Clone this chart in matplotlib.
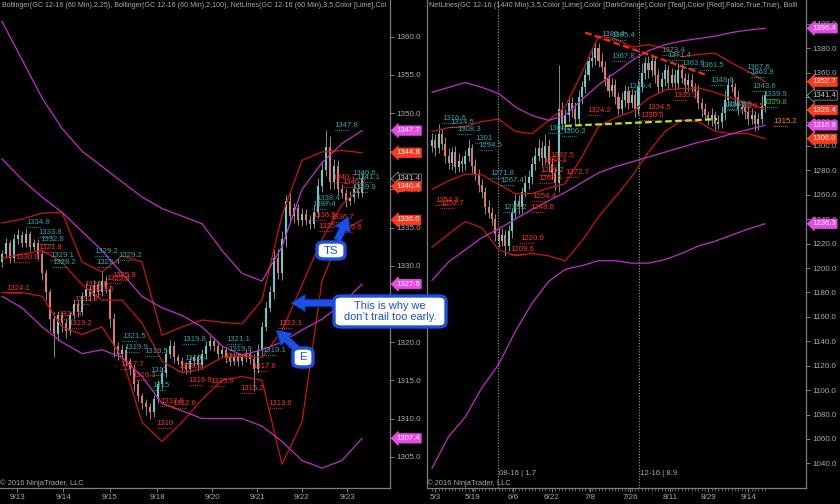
import matplotlib
matplotlib.use("Agg")
import matplotlib.pyplot as plt
import matplotlib.transforms as mtransforms
from matplotlib.patches import FancyBboxPatch, FancyArrowPatch
import numpy as np

# ---------------- data : left panel (GC 12-16, 60 min) ----------------
left_close = [
    1331.5, 1333.0, 1331.0, 1333.5, 1334.0, 1333.0, 1334.2, 1332.5, 1333.0, 1331.5,
    1329.0, 1326.5, 1323.0, 1321.0, 1323.5, 1322.5, 1321.5, 1323.5, 1325.0, 1324.0,
    1326.0, 1327.0, 1326.0, 1327.5, 1326.5, 1328.0, 1327.0, 1323.0, 1319.5, 1318.5,
    1319.0, 1317.5, 1316.5, 1314.5, 1313.0, 1312.0, 1311.5, 1310.8, 1312.5, 1314.5,
    1316.0, 1318.5, 1319.5, 1318.0, 1317.5, 1317.0, 1316.5, 1317.5, 1318.0, 1317.0,
    1318.5, 1319.5, 1320.2, 1319.5, 1318.5, 1319.0, 1318.0, 1317.5, 1318.0, 1317.5,
    1318.0, 1318.5, 1317.8, 1316.5, 1319.0, 1322.0, 1324.5, 1326.5, 1331.0, 1329.0,
    1333.5, 1338.5, 1336.5, 1337.5, 1336.0, 1336.8, 1336.0, 1335.5, 1337.0, 1340.5,
    1342.5, 1345.5, 1341.0, 1343.0, 1340.0, 1339.5, 1338.5, 1339.0, 1340.0, 1339.5,
    1341.4]
left_first_open = 1330.5
left_up_wick = [
    0.5, 0.6, 0.4, 0.7, 0.8, 0.5, 0.6, 0.4, 0.5, 0.5,
    0.6, 0.5, 0.4, 1.0, 0.6, 0.5, 0.6, 0.5, 0.7, 0.5,
    0.6, 0.8, 0.5, 0.6, 0.5, 1.2, 0.6, 0.5, 0.8, 0.5,
    0.6, 0.5, 0.4, 0.5, 0.6, 0.4, 0.5, 0.5, 0.6, 0.5,
    0.7, 0.6, 0.8, 0.6, 0.5, 0.5, 0.4, 0.6, 0.5, 0.5,
    0.6, 0.7, 0.6, 0.5, 0.6, 0.5, 0.4, 0.5, 0.5, 0.6,
    0.5, 0.6, 0.5, 0.6, 0.8, 0.6, 0.7, 0.8, 1.0, 1.2,
    1.0, 0.8, 1.0, 0.7, 0.6, 0.8, 0.6, 0.7, 0.9, 1.0,
    1.2, 2.3, 1.5, 1.0, 0.8, 0.7, 0.6, 0.8, 0.7, 0.9,
    0.6]
left_dn_wick = [
    0.6, 0.5, 0.7, 0.5, 0.6, 0.5, 0.5, 0.6, 0.5, 0.7,
    0.8, 1.0, 1.5, 3.0, 0.8, 1.2, 0.9, 0.6, 0.5, 0.7,
    0.5, 0.6, 0.6, 0.5, 0.7, 0.5, 0.6, 1.0, 1.5, 0.8,
    0.7, 0.6, 0.8, 0.9, 0.7, 0.8, 1.0, 0.8, 0.6, 0.5,
    0.6, 0.5, 0.6, 0.7, 0.5, 0.6, 0.7, 0.5, 0.6, 0.7,
    0.5, 0.6, 0.5, 0.7, 0.6, 0.5, 0.7, 0.6, 0.5, 0.6,
    0.5, 0.6, 0.7, 2.9, 0.6, 0.5, 0.6, 0.5, 0.8, 0.7,
    0.9, 1.0, 0.8, 0.9, 0.7, 0.8, 0.6, 0.7, 0.6, 0.8,
    0.9, 0.8, 1.0, 0.9, 0.7, 0.6, 0.8, 0.6, 0.7, 0.6,
    0.5]
left_dates = ["9/13", "9/14", "9/15", "9/18", "9/20", "9/21", "9/22", "9/23"]
left_date_bars = [3.75, 15.25, 27.0, 38.75, 52.5, 63.75, 75.0, 86.25]
left_yticks = [1305, 1310, 1315, 1320, 1325, 1330, 1335, 1340, 1345, 1350, 1355, 1360]
# bands sampled every 5 bars
left_band_step = 5
left_red_upper = [1335.6, 1336.1, 1336.9, 1337.0, 1330.5, 1329.2, 1331.3, 1330.5, 1320.9, 1322.0,
                  1322.9, 1322.6, 1322.4, 1325.5, 1336.6, 1343.8, 1344.9, 1345.1, 1344.8]
left_red_mid = [1331.0, 1331.5, 1332.0, 1330.5, 1327.5, 1325.5, 1325.5, 1322.5, 1317.5, 1316.0,
                1316.5, 1318.0, 1318.2, 1318.0, 1321.5, 1327.5, 1333.5, 1338.0, 1340.4]
left_red_lower = [1326.5, 1326.5, 1326.0, 1322.0, 1321.0, 1322.0, 1318.0, 1309.5, 1307.0, 1309.5,
                  1312.5, 1315.0, 1315.5, 1315.0, 1304.0, 1309.5, 1328.0, 1334.5, 1336.0]
left_mag_upper = [1362.0, 1357.0, 1352.0, 1348.0, 1345.0, 1343.0, 1341.0, 1339.0, 1337.5, 1336.5,
                  1335.5, 1332.0, 1329.0, 1328.0, 1332.5, 1340.0, 1343.5, 1346.0, 1347.7]
left_mag_mid = [1344.0, 1341.3, 1339.0, 1337.0, 1334.5, 1332.0, 1329.0, 1326.0, 1324.5, 1323.5,
                1322.0, 1319.5, 1318.3, 1319.0, 1320.0, 1321.6, 1323.0, 1325.0, 1327.6]
left_mag_lower = [1326.0, 1324.5, 1322.0, 1320.0, 1318.5, 1319.0, 1318.0, 1315.5, 1312.0, 1311.0,
                  1310.0, 1310.0, 1310.0, 1309.0, 1307.0, 1304.5, 1303.5, 1304.5, 1307.4]
left_labels = [  # text, bar, price, kind (h = swing high / teal, l = swing low / red)
    ("1334.8", 6.0, 1335.7, "h"), ("1333.8", 9.0, 1334.4, "h"), ("1332.8", 9.5, 1333.4, "h"),
    ("1331.8", 9.0, 1332.4, "l"), ("1330.8", 3.3, 1331.1, "l"), ("1329.1", 12.0, 1331.3, "h"),
    ("1328.2", 12.5, 1330.4, "h"), ("1329.2", 23.2, 1331.9, "h"), ("1329.2", 29.0, 1331.3, "h"),
    ("1328.4", 23.7, 1330.4, "h"), ("1325.9", 27.7, 1328.7, "l"), ("1325.4", 26.2, 1328.3, "l"),
    ("1324.1", 1.2, 1327.0, "l"), ("1324.6", 20.7, 1327.6, "l"), ("1323.6", 22.0, 1326.9, "l"),
    ("1322.3", 18.2, 1325.6, "l"), ("1320.3", 14.0, 1323.6, "l"), ("1319.2", 16.5, 1322.4, "l"),
    ("1321.5", 30.0, 1320.8, "h"), ("1319.9", 30.7, 1319.3, "h"), ("1319.5", 35.7, 1318.8, "h"),
    ("1317.7", 29.5, 1317.1, "l"), ("1316.3", 32.7, 1315.6, "l"), ("1317", 37.0, 1316.3, "h"),
    ("1315", 37.5, 1314.3, "h"), ("1312.8", 39.5, 1312.2, "l"), ("1312.6", 42.5, 1312.0, "l"),
    ("1310", 38.7, 1309.4, "l"), ("1319.8", 45.0, 1320.3, "h"), ("1319.4", 45.7, 1317.8, "h"),
    ("1318.3", 44.0, 1316.8, "l"), ("1316.9", 46.7, 1315.0, "l"), ("1315.9", 52.0, 1314.8, "l"),
    ("1321.1", 56.2, 1320.3, "h"), ("1319.9", 56.5, 1319.1, "h"), ("1318.9", 55.7, 1318.1, "l"),
    ("1315.2", 59.5, 1313.9, "l"), ("1319.1", 65.0, 1318.9, "h"), ("1317.6", 62.7, 1316.8, "l"),
    ("1313.6", 66.5, 1311.9, "l"), ("1323.3", 69.0, 1322.5, "l"), ("1347.8", 83.2, 1348.4, "h"),
    ("1338.4", 78.7, 1338.8, "h"), ("1337.4", 77.5, 1338.0, "h"), ("1340.6", 87.7, 1342.1, "h"),
    ("1341.1", 88.7, 1341.5, "h"), ("1339.9", 87.7, 1340.2, "h"), ("1340.7", 82.5, 1341.6, "l"),
    ("1340.2", 85.0, 1340.9, "l"), ("1336.5", 77.5, 1336.6, "l"), ("1336.7", 82.0, 1336.3, "l"),
    ("1335.7", 79.0, 1335.2, "l"), ("1335.6", 84.0, 1335.0, "l"),
]
left_tags = [(1347.7, "m"), (1344.8, "r"), (1341.4, "k"), (1340.4, "r"), (1336.0, "r"),
             (1327.6, "m"), (1307.4, "m")]

# ---------------- data : right panel (GC 12-16, daily) ----------------
right_close = [
    1305, 1298, 1310, 1302, 1292, 1286, 1295, 1283, 1288, 1285,
    1292, 1298, 1284, 1277, 1268, 1262, 1250, 1245, 1240, 1228,
    1222, 1227, 1218, 1230, 1245, 1255, 1250, 1262, 1270, 1275,
    1285, 1292, 1298, 1290, 1300, 1285, 1278, 1270, 1330, 1318,
    1325, 1335, 1330, 1322, 1340, 1348, 1358, 1370, 1372, 1380,
    1370, 1365, 1355, 1345, 1350, 1340, 1330, 1338, 1345, 1335,
    1342, 1330, 1348, 1360, 1368, 1362, 1370, 1358, 1348, 1355,
    1362, 1352, 1358, 1352, 1362, 1356, 1350, 1354, 1348, 1345,
    1335, 1330, 1325, 1322, 1325, 1318, 1320, 1327, 1338, 1350,
    1348, 1340, 1330, 1332, 1328, 1322, 1325, 1318, 1322, 1333,
    1341.4]
right_first_open = 1300
right_up_wick = [
    6, 5, 8, 4, 5, 6, 4, 5, 6, 4,
    5, 8, 4, 5, 4, 5, 4, 6, 5, 4,
    5, 6, 4, 5, 4, 6, 5, 4, 6, 5,
    6, 7, 8, 6, 10, 6, 5, 4, 36, 6,
    5, 6, 5, 6, 6, 5, 6, 5, 8, 6,
    4, 6, 5, 4, 6, 5, 4, 6, 5, 4,
    5, 4, 6, 8, 5, 6, 5, 4, 5, 6,
    5, 4, 6, 5, 6, 5, 4, 6, 5, 4,
    5, 4, 5, 4, 6, 4, 5, 6, 8, 6,
    5, 4, 6, 5, 4, 5, 6, 4, 5, 9,
    4]
right_dn_wick = [
    5, 6, 4, 5, 6, 5, 6, 5, 4, 6,
    5, 4, 6, 5, 6, 5, 6, 4, 5, 6,
    5, 4, 8, 4, 5, 4, 6, 5, 4, 5,
    6, 5, 4, 6, 5, 6, 5, 6, 8, 5,
    6, 5, 6, 5, 4, 6, 5, 4, 5, 6,
    5, 4, 6, 5, 4, 6, 5, 4, 6, 5,
    4, 6, 5, 4, 5, 6, 5, 6, 5, 4,
    6, 5, 4, 6, 5, 4, 6, 5, 4, 6,
    5, 6, 4, 5, 6, 5, 4, 5, 6, 5,
    4, 6, 5, 4, 6, 5, 4, 6, 5, 4,
    5]
right_dates = ["5/3", "5/19", "6/6", "6/22", "7/8", "7/26", "8/11", "8/29", "9/14"]
right_date_bars = [0.9, 12.3, 24.3, 36.0, 47.4, 59.5, 71.5, 83.0, 95.0]
right_yticks = list(range(1040, 1401, 20))
right_band_step = 5
right_red_upper = [1312, 1315, 1316, 1320, 1322, 1312, 1310, 1321, 1332, 1360, 1390,
                   1388, 1381, 1383, 1380, 1373, 1375, 1376, 1368, 1361, 1352.7]
right_red_lower = [1217, 1228, 1238, 1233, 1215, 1210, 1212, 1210, 1206, 1222, 1242,
                   1258, 1275, 1295, 1312, 1321, 1320, 1312, 1310, 1310, 1306.0]
right_red_mid = [1264.5, 1271.5, 1277, 1276.5, 1268.5, 1261, 1261, 1265.5, 1269, 1291, 1316,
                 1323, 1328, 1339, 1346, 1347, 1347.5, 1344, 1339, 1335.5, 1329.4]
right_mag_upper = [1344, 1348, 1352, 1348, 1343, 1332, 1325, 1321, 1325, 1338, 1350,
                   1360, 1370, 1378, 1383, 1386, 1388, 1390, 1393, 1395, 1396.4]
right_mag_mid = [1190, 1205, 1215, 1225, 1232, 1240, 1248, 1255, 1262, 1270, 1278,
                 1283, 1287, 1291, 1295, 1299, 1303, 1306, 1310, 1313.5, 1316.9]
right_mag_lower = [1036, 1062, 1078, 1102, 1121, 1148, 1171, 1189, 1199, 1202, 1206,
                   1206, 1204, 1204, 1207, 1212, 1218, 1222, 1227, 1232, 1236.3]
right_rollovers = [(19.8, "08-16 | 1.7"), (62.2, "12-16 | 8.9")]
right_trend_red = [(46.0, 1393.0), (82.6, 1358.0)]
right_trend_lime = [(40.0, 1316.5), (85.6, 1322.0)]
right_labels = [
    ("1316.6", 3.0, 1322.9, "h"), ("1314.5", 5.4, 1319.6, "h"), ("1308.3", 7.5, 1313.9, "h"),
    ("1301", 13.0, 1306.5, "h"), ("1294.5", 13.8, 1300.0, "h"), ("1271.8", 17.4, 1277.8, "h"),
    ("1267.4", 20.4, 1272.0, "h"), ("1235.2", 21.3, 1250.0, "h"), ("1254.3", 1.0, 1255.6, "l"),
    ("1252.7", 2.4, 1253.0, "l"), ("1220.9", 26.4, 1224.6, "l"), ("1209.6", 23.4, 1215.0, "l"),
    ("1254.4", 30.0, 1258.9, "l"), ("1248.8", 29.4, 1250.0, "l"), ("1287.5", 35.4, 1292.6, "l"),
    ("1284.1", 33.3, 1288.4, "l"), ("1276.2", 32.4, 1280.3, "l"), ("1268.5", 31.8, 1273.0, "l"),
    ("1272.7", 40.0, 1278.0, "l"), ("1324.2", 46.5, 1329.4, "l"), ("1308.2", 34.8, 1314.7, "h"),
    ("1306.3", 39.0, 1311.5, "h"), ("1386.4", 51.0, 1391.0, "h"), ("1385.4", 54.0, 1390.2, "h"),
    ("1367.8", 54.0, 1373.0, "h"), ("1373.4", 69.0, 1378.0, "h"), ("1371.4", 70.8, 1374.5, "h"),
    ("1363.6", 75.0, 1367.4, "h"), ("1361.5", 80.5, 1365.7, "h"), ("1346.4", 58.9, 1349.0, "h"),
    ("1348.8", 83.5, 1353.3, "h"), ("1336.3", 87.4, 1333.0, "h"), ("1339.8", 89.0, 1334.0, "h"),
    ("1335.3", 72.4, 1341.0, "l"), ("1334.5", 64.6, 1331.3, "l"), ("1330.9", 62.5, 1324.8, "l"),
    ("1326.5", 92.5, 1332.1, "l"), ("1367.6", 94.5, 1364.2, "h"), ("1363.9", 95.5, 1360.1, "h"),
    ("1343.6", 96.1, 1348.6, "h"), ("1339.9", 99.4, 1342.0, "h"), ("1329.8", 99.4, 1335.4, "g"),
    ("1315.2", 102.4, 1319.9, "o"),
]
right_tags = [(1396.4, "m"), (1352.7, "r"), (1341.4, "k"), (1329.4, "r"), (1316.9, "m"),
              (1306.0, "r"), (1236.3, "m")]

left_title = ("Bollinger(GC 12-16 (60 Min),2,25), Bollinger(GC 12-16 (60 Min),2,100), "
              "NetLines(GC 12-16 (60 Min),3,5,Color [Lime],Col")
right_title = ("NetLines(GC 12-16 (1440 Min),3,5,Color [Lime],Color [DarkOrange],Color [Teal],"
               "Color [Red],False,True,True), Bolli")
copyright_txt = "\u00a9 2016 NinjaTrader, LLC"

# ---------------- style ----------------
FONT = "Liberation Sans"
GREY = "#a9a9a9"
SPINE = "#7d7d7d"
UP_C = "#5fcfc8"
DN_C = "#e0766e"
WICK_C = "#8c8c8c"
RED_BAND = "#c8160c"
MAG_BAND = "#c02fc4"
LBL_C = {"h": "#2aa5a5", "l": "#ff3020", "g": "#22c422", "o": "#f08a10"}
TAG_C = {"m": ("#e84ae8", "white", "#e84ae8"), "r": ("#ff3a1c", "white", "#ff3a1c"),
         "k": ("black", "#c8c8c8", "#909090")}

W, H = 840, 504
fig = plt.figure(figsize=(W / 100, H / 100), dpi=100, facecolor="black")


def px_axes(x0, x1, y0, y1):
    return fig.add_axes([x0 / W, 1 - y1 / H, (x1 - x0) / W, (y1 - y0) / H])


axL = px_axes(0, 390, 0, 488)
axR = px_axes(427, 806, 0, 488)
axL.set_xlim(-0.5, 97.0)
axL.set_ylim(1300.9, 1364.8)
axR.set_xlim(-1.5, 112.3)
axR.set_ylim(1019.8, 1419.6)


def style_axes(ax, yticks, xt, xl, show_left):
    ax.set_facecolor("black")
    ax.spines["top"].set_visible(False)
    ax.spines["left"].set_visible(show_left)
    for s in ["right", "bottom", "left"]:
        ax.spines[s].set_color(SPINE)
        ax.spines[s].set_linewidth(0.9)
    ax.yaxis.tick_right()
    ax.set_yticks(yticks)
    ax.set_yticklabels([f"{v:.1f}" for v in yticks])
    ax.tick_params(axis="y", colors=SPINE, labelcolor=GREY, labelsize=5.8, length=3,
                   width=0.7, pad=1.5)
    ax.set_xticks(xt)
    ax.set_xticklabels(xl)
    ax.tick_params(axis="x", colors=SPINE, labelcolor=GREY, labelsize=5.8, length=3,
                   width=0.7, pad=1.5)
    for t in ax.get_xticklabels() + ax.get_yticklabels():
        t.set_fontfamily(FONT)


style_axes(axL, left_yticks, left_date_bars, left_dates, False)
style_axes(axR, right_yticks, right_date_bars, right_dates, True)
axR.set_xticks(np.arange(0, len(right_close)), minor=True)
axR.tick_params(axis="x", which="minor", colors=SPINE, length=2, width=0.5)


def draw_candles(ax, close, first_open, upw, dnw, width, min_body):
    close = np.asarray(close, float)
    opens = np.concatenate([[first_open], close[:-1]])
    x = np.arange(len(close))
    hi = np.maximum(opens, close) + np.asarray(upw, float)
    lo = np.minimum(opens, close) - np.asarray(dnw, float)
    ax.vlines(x, lo, hi, color=WICK_C, lw=0.7, zorder=2)
    up = close >= opens
    body = np.maximum(np.abs(close - opens), min_body)
    bottom = np.minimum(opens, close)
    ax.bar(x[up], body[up], bottom=bottom[up], width=width, color=UP_C, lw=0, zorder=3)
    ax.bar(x[~up], body[~up], bottom=bottom[~up], width=width, color=DN_C, lw=0, zorder=3)


draw_candles(axL, left_close, left_first_open, left_up_wick, left_dn_wick, 0.55, 0.15)
draw_candles(axR, right_close, right_first_open, right_up_wick, right_dn_wick, 0.62, 1.0)


def draw_bands(ax, step, red, mag):
    for arr in red:
        xs = np.arange(len(arr)) * step
        ax.plot(xs, arr, color=RED_BAND, lw=0.9, zorder=4, solid_joinstyle="round")
    for arr in mag:
        xs = np.arange(len(arr)) * step
        ax.plot(xs, arr, color=MAG_BAND, lw=0.9, zorder=4, solid_joinstyle="round")


draw_bands(axL, left_band_step, [left_red_upper, left_red_mid, left_red_lower],
           [left_mag_upper, left_mag_mid, left_mag_lower])
draw_bands(axR, right_band_step, [right_red_upper, right_red_mid, right_red_lower],
           [right_mag_upper, right_mag_mid, right_mag_lower])


def price_labels(ax, labels, px_per_bar):
    off = mtransforms.offset_copy(ax.transData, fig=fig, x=0, y=-4.5, units="dots")
    for txt, b, p, k in labels:
        c = LBL_C[k]
        ax.text(b, p, txt, color=c, fontsize=5.6, family=FONT, ha="left", va="center",
                zorder=6, clip_on=True)
        ax.plot([b, b + 14.0 / px_per_bar], [p, p], transform=off, color=c, lw=0.9,
                ls=(0, (0.6, 0.9)), zorder=6, clip_on=True)


price_labels(axL, left_labels, 4.0)
price_labels(axR, right_labels, 3.33)


def tags(ax, items):
    for p, k in items:
        fc, tc, ec = TAG_C[k]
        ax.annotate(f"{p:.1f}", xy=(1.0, p), xycoords=("axes fraction", "data"),
                    xytext=(4.5, 0), textcoords="offset points", ha="left", va="center",
                    fontsize=5.6, family=FONT, color=tc, annotation_clip=False, zorder=10,
                    bbox=dict(boxstyle="larrow,pad=0.15", fc=fc, ec=ec, lw=0.6))


tags(axL, left_tags)
tags(axR, right_tags)

# rollover markers and drawn trend lines (right panel)
for b, txt in right_rollovers:
    axR.axvline(b, color="#9a9a9a", lw=0.8, ls=(0, (1, 1.5)), zorder=1)
    axR.text(b + 0.4, 1031.5, txt, color=GREY, fontsize=5.6, family=FONT, ha="left",
             va="center")
(tx0, ty0), (tx1, ty1) = right_trend_red
axR.plot([tx0, tx1], [ty0, ty1], color="#ff2a10", lw=1.6, ls=(0, (3, 1.5)), zorder=7)
(tx0, ty0), (tx1, ty1) = right_trend_lime
axR.plot([tx0, tx1], [ty0, ty1], color="#b4e61e", lw=1.6, ls=(0, (3, 1.5)), zorder=7)

# titles and copyright
for ax, t, fs in [(axL, left_title, 5.1), (axR, right_title, 5.25)]:
    ax.text(0.004, 1 - 5.5 / 488, t, transform=ax.transAxes, color=GREY, fontsize=fs,
            family=FONT, ha="left", va="center", zorder=11)
    ax.text(0.0, 4.5 / 488, copyright_txt, transform=ax.transAxes, color=GREY,
            fontsize=5.4, family=FONT, ha="left", va="center", zorder=11)

# callouts (figure pixel layout)
BLUE = "#1b4fe6"
EDGE = "#0b1f70"


def fig_xy(x, y):
    return x / W, 1 - y / H


def callout(text, x0, y0, x1, y1, fs):
    bx, by = fig_xy(x0, y1)
    box = FancyBboxPatch((bx, by), (x1 - x0) / W, (y1 - y0) / H,
                         boxstyle="round,pad=0,rounding_size=0.009",
                         transform=fig.transFigure, fc="white", ec=BLUE, lw=2.4, zorder=20)
    fig.add_artist(box)
    cx, cy = fig_xy((x0 + x1) / 2, (y0 + y1) / 2)
    fig.text(cx, cy, text, color=BLUE, fontsize=fs, family=FONT, ha="center", va="center",
             linespacing=1.1, zorder=21)


def arrow(x0, y0, x1, y1):
    fig.add_artist(FancyArrowPatch(
        fig_xy(x0, y0), fig_xy(x1, y1), transform=fig.transFigure,
        arrowstyle="simple,head_width=1.15,head_length=0.95,tail_width=0.5",
        mutation_scale=11, fc=BLUE, ec=EDGE, lw=0.6, zorder=19))


arrow(336, 303, 288, 303)
arrow(299, 351, 274, 328)
arrow(336, 243, 350, 214)
callout("This is why we\ndon\u2019t trail too early.", 334, 296, 446, 327, 7.9)
callout("E", 293, 348, 313, 367, 8.0)
callout("TS", 317, 242, 345, 259, 8.2)

fig.savefig("out.png", dpi=100, facecolor="black")
